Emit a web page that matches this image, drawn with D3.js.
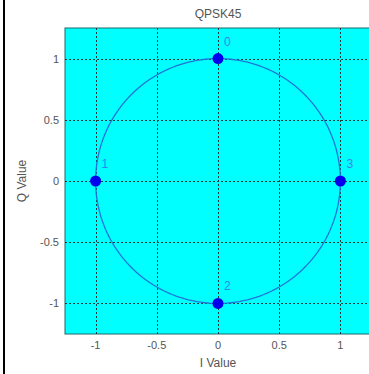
<!DOCTYPE html>
<html><head><meta charset="utf-8">
<script src="https://cdn.jsdelivr.net/npm/d3@7"></script>
<style>body{margin:0;background:#fff}svg{display:block}</style>
</head><body>
<script>
const title = "QPSK45";
const symbolLabels = ["0", "1", "2", "3"];
const iValues = [0, -1, 0, 1];
const qValues = [1, 0, -1, 0];
const xTicks = [-1, -0.5, 0, 0.5, 1];
const yTicks = [-1, -0.5, 0, 0.5, 1];
const xLabel = "I Value";
const yLabel = "Q Value";

const W = 369, H = 374;
const FONT = "Arial, 'Liberation Sans', sans-serif";
const svg = d3.select("body").append("svg").attr("width", W).attr("height", H);
svg.append("rect").attr("width", W).attr("height", H).attr("fill", "#fff");
svg.append("line").attr("x1", 4).attr("x2", 4).attr("y1", 0).attr("y2", H).attr("stroke", "#000").attr("stroke-width", 2);

const x = d3.scaleLinear().domain([-1.25, 1.25]).range([65, 371]);
const y = d3.scaleLinear().domain([-1.25, 1.25]).range([334, 28]);

const g = svg.append("g");
g.append("rect").attr("x", x(-1.25)).attr("y", y(1.25))
  .attr("width", x(1.25) - x(-1.25)).attr("height", y(-1.25) - y(1.25))
  .attr("fill", "#00ffff").attr("stroke", "#1a6a6a").attr("stroke-width", 1);

// grid
g.selectAll(".gx").data(xTicks).join("line")
  .attr("x1", d => Math.round(x(d)) + 0.5).attr("x2", d => Math.round(x(d)) + 0.5)
  .attr("y1", y(1.25)).attr("y2", y(-1.25))
  .attr("stroke", "#1c3c3c").attr("stroke-dasharray", "2,2").attr("stroke-width", 1);
g.selectAll(".gy").data(yTicks).join("line")
  .attr("y1", d => Math.round(y(d)) + 0.5).attr("y2", d => Math.round(y(d)) + 0.5)
  .attr("x1", x(-1.25)).attr("x2", x(1.25))
  .attr("stroke", "#1c3c3c").attr("stroke-dasharray", "2,2").attr("stroke-width", 1);

// axes labels
const fmt = d => d === 0 ? "0" : String(d);
svg.selectAll(".xt").data(xTicks).join("text")
  .attr("x", d => x(d)).attr("y", 349).attr("text-anchor", "middle")
  .attr("font-family", FONT).attr("font-size", 11).attr("fill", "#555")
  .text(fmt);
svg.selectAll(".yt").data(yTicks).join("text")
  .attr("x", 59).attr("y", d => y(d) + 4).attr("text-anchor", "end")
  .attr("font-family", FONT).attr("font-size", 11).attr("fill", "#555")
  .text(fmt);

svg.append("text").attr("x", x(0)).attr("y", 367).attr("text-anchor", "middle")
  .attr("font-family", FONT).attr("font-size", 12).attr("fill", "#555").text(xLabel);
svg.append("text").attr("transform", `translate(26,${y(0)}) rotate(-90)`).attr("text-anchor", "middle")
  .attr("font-family", FONT).attr("font-size", 12).attr("fill", "#555").text(yLabel);
svg.append("text").attr("x", x(0)).attr("y", 18).attr("text-anchor", "middle")
  .attr("font-family", FONT).attr("font-size", 12).attr("fill", "#555").text(title);

// unit circle
const angles = d3.range(0, 361, 2).map(a => a * Math.PI / 180);
const line = d3.line().x(a => x(Math.cos(a))).y(a => y(Math.sin(a)));
g.append("path").datum(angles).attr("d", line).attr("fill", "none").attr("stroke", "#1f74d8").attr("stroke-width", 1.3);

// points
const pts = iValues.map((v, i) => ({i: v, q: qValues[i], label: symbolLabels[i]}));
g.selectAll(".pt").data(pts).join("circle")
  .attr("cx", d => x(d.i)).attr("cy", d => y(d.q)).attr("r", 5.5).attr("fill", "#0000ee");
g.selectAll(".lb").data(pts).join("text")
  .attr("x", d => x(d.i) + 6).attr("y", d => y(d.q) - 13)
  .attr("font-family", FONT).attr("font-size", 12).attr("fill", "#2f86ee")
  .text(d => d.label);
</script>
</body></html>
